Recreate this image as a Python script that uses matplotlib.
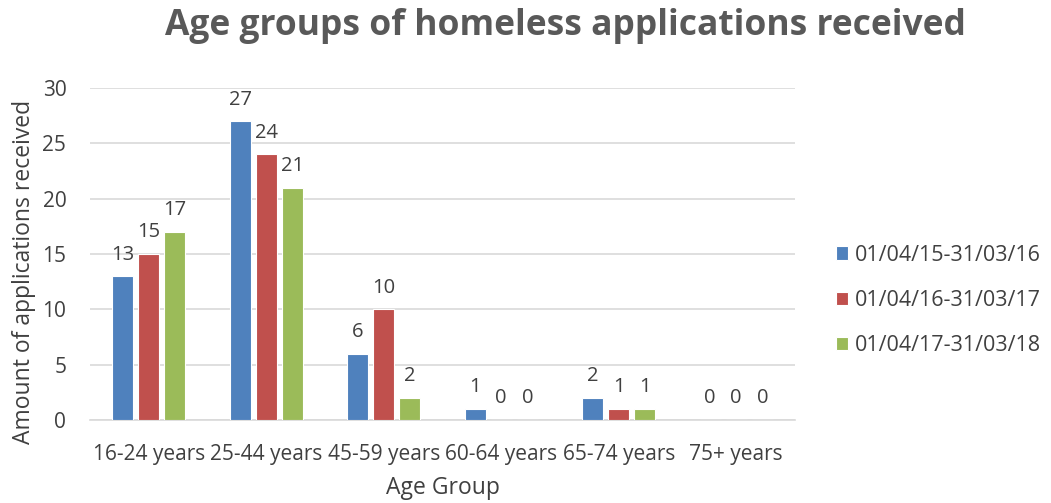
import numpy as np
import matplotlib.pyplot as plt

plt.rcParams['font.family'] = ['Open Sans', 'DejaVu Sans']

age_groups = ["16-24 years", "25-44 years", "45-59 years", "60-64 years", "65-74 years", "75+ years"]
periods = ["01/04/15-31/03/16", "01/04/16-31/03/17", "01/04/17-31/03/18"]
counts_2015 = [13, 27, 6, 1, 2, 0]
counts_2016 = [15, 24, 10, 0, 1, 0]
counts_2017 = [17, 21, 2, 0, 1, 0]
colors = ["#4F81BD", "#C0504D", "#9BBB59"]

text_col = "#404040"

fig = plt.figure(figsize=(10.51, 5.03), dpi=100)
ax = fig.add_axes([0.0856, 0.165, 0.6708, 0.66])

x = np.arange(len(age_groups))
width = 0.18
step = 0.222
for i, (vals, lab, col) in enumerate(zip([counts_2015, counts_2016, counts_2017], periods, colors)):
    pos = x + (i - 1) * step
    bars = ax.bar(pos, vals, width=width, color=col, label=lab, zorder=3,
                  edgecolor="white", linewidth=0.8)
    for b, v in zip(bars, vals):
        ax.text(b.get_x() + b.get_width() / 2, v + 1.5, str(v), ha="center", va="baseline",
                fontsize=14.5, color=text_col)

ax.set_xlim(-0.5, len(age_groups) - 0.5)
ax.set_ylim(0, 30)
ax.set_yticks(range(0, 31, 5))
ax.set_xticks(x)
ax.set_xticklabels(age_groups)
ax.tick_params(axis="x", length=0, labelsize=15, colors=text_col, pad=17)
ax.tick_params(axis="y", length=0, labelsize=15, colors=text_col, pad=17)
ax.grid(axis="y", color="#D9D9D9", linewidth=1.2, zorder=0)
for side in ["top", "right", "left"]:
    ax.spines[side].set_visible(False)
ax.spines["bottom"].set_color("#D9D9D9")
ax.spines["bottom"].set_linewidth(1.2)

ax.set_xlabel("Age Group", fontsize=16.5, color=text_col, labelpad=8)
ax.set_ylabel("Amount of applications received", fontsize=16.5, color=text_col)
ax.yaxis.set_label_coords(-0.077, 0.446)

fig.text(0.538, 0.948, "Age groups of homeless applications received", ha="center", va="center",
         fontsize=25.5, fontweight="bold", color="#595959")

ax.legend(loc="center left", bbox_to_anchor=(1.03, 0.36), frameon=False, fontsize=15.5,
          labelcolor=text_col, handlelength=0.6, handleheight=0.6, handletextpad=0.3,
          labelspacing=1.12)

fig.savefig("out.png", dpi=100)
